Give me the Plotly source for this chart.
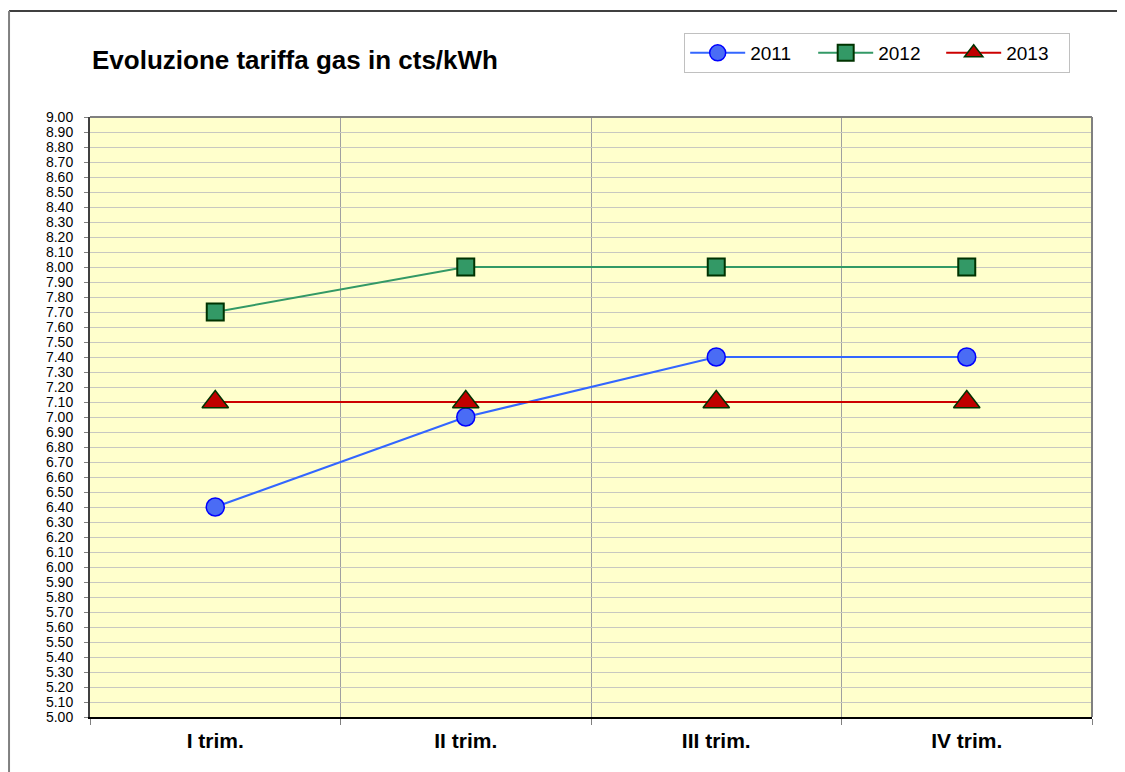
import plotly.graph_objects as go

categories = ["I trim.", "II trim.", "III trim.", "IV trim."]
series_2011 = [6.40, 7.00, 7.40, 7.40]
series_2012 = [7.70, 8.00, 8.00, 8.00]
series_2013 = [7.10, 7.10, 7.10, 7.10]
title_text = "Evoluzione tariffa gas in cts/kWh"

fig = go.Figure()
fig.add_trace(go.Scatter(
    x=categories, y=series_2011, name="2011", mode="lines+markers",
    line=dict(color="#3366FF", width=2),
    marker=dict(symbol="circle", size=18, color="#4A6CF5", line=dict(color="#0000FF", width=1.5)),
))
fig.add_trace(go.Scatter(
    x=categories, y=series_2012, name="2012", mode="lines+markers",
    line=dict(color="#339966", width=2),
    marker=dict(symbol="square", size=17, color="#339966", line=dict(color="#003300", width=2)),
))
fig.add_trace(go.Scatter(
    x=categories, y=series_2013, name="2013", mode="lines+markers",
    line=dict(color="#CC0000", width=2),
    marker=dict(symbol="triangle-up", size=23, color="#C00000", line=dict(color="#003300", width=1.5)),
))

fig.update_layout(
    width=1125, height=772,
    margin=dict(l=82, r=41, t=109, b=63, autoexpand=False),
    paper_bgcolor="white",
    plot_bgcolor="#FFFFCC",
    font=dict(family="Arial, Liberation Sans, sans-serif", color="black"),
    showlegend=True,
    legend=dict(
        orientation="h", x=0.593, y=1.14, xanchor="left", yanchor="top",
        bordercolor="#C0C0C0", borderwidth=1, bgcolor="white",
        font=dict(size=19, family="Arial, Liberation Sans, sans-serif"),
        itemwidth=55, traceorder="normal",
        entrywidth=58, entrywidthmode="pixels",
    ),
    xaxis=dict(
        type="category", tickson="boundaries", showgrid=True,
        gridcolor="#A0A0A0", gridwidth=1,
        showline=True, linecolor="black", linewidth=2,
        ticks="outside", ticklen=6, tickcolor="#808080",
        ticklabelstandoff=4,
        tickfont=dict(size=21, family="Arial, Liberation Sans, sans-serif", weight="bold"),
        range=[-0.5, 3.5], zeroline=False,
    ),
    yaxis=dict(
        range=[5.0, 9.0], dtick=0.1, tick0=5.0, tickformat=".2f",
        showgrid=True, gridcolor="#C8C8C0", gridwidth=1,
        showline=True, linecolor="#404040", linewidth=2,
        ticks="outside", ticklen=4, tickcolor="#808080",
        ticklabelstandoff=8,
        tickfont=dict(size=14, family="Arial, Liberation Sans, sans-serif"),
        zeroline=False,
    ),
    annotations=[dict(
        text="<b>" + title_text + "</b>", xref="paper", yref="paper",
        x=0.0, y=1.095, xanchor="left", yanchor="middle", showarrow=False,
        font=dict(size=26, family="Arial, Liberation Sans, sans-serif", color="black"),
    )],
    shapes=[
        dict(type="line", xref="paper", yref="paper", x0=0, x1=1, y0=1, y1=1,
             line=dict(color="#808080", width=2)),
        dict(type="line", xref="paper", yref="paper", x0=1, x1=1, y0=0, y1=1,
             line=dict(color="#808080", width=2)),
        dict(type="line", xref="paper", yref="paper", x0=-0.0808, x1=1.1, y0=1.1767, y1=1.1767,
             line=dict(color="black", width=1.5)),
        dict(type="line", xref="paper", yref="paper", x0=-0.0808, x1=-0.0808, y0=-0.2, y1=1.1767,
             line=dict(color="#808080", width=2)),
    ],
)

fig.write_html("out.html")
